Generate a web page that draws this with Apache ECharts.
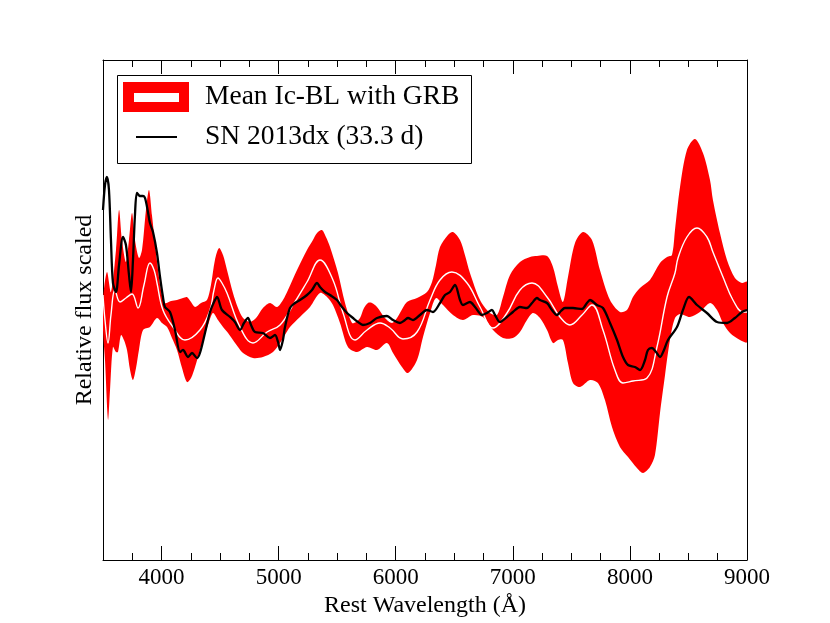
<!DOCTYPE html>
<html>
<head>
<meta charset="utf-8">
<script src="https://cdn.jsdelivr.net/npm/echarts@6/dist/echarts.min.js"></script>
<style>
  html, body { margin: 0; padding: 0; background: #fff; }
  #chart { width: 830px; height: 623px; }
</style>
</head>
<body>
<div id="chart"></div>
<script>
// red band: upper and lower envelope of the mean Ic-BL (GRB) spectrum
var upperBand = [
    [3500,2.60],[3534,2.88],[3568,2.68],[3611,3.10],[3637,3.50],[3662,3.20],[3696,2.98],[3722,3.20],
    [3748,3.47],[3773,3.20],[3807,3.02],[3833,3.10],[3867,3.50],[3893,3.70],[3918,3.45],[3944,3.17],
    [3970,2.90],[3995,2.70],[4029,2.57],[4081,2.59],[4132,2.60],[4183,2.62],[4217,2.63],[4252,2.58],
    [4286,2.53],[4337,2.57],[4388,2.60],[4422,2.75],[4456,3.00],[4491,3.12],[4525,3.05],[4559,2.90],
    [4610,2.67],[4653,2.52],[4696,2.42],[4755,2.38],[4807,2.42],[4866,2.52],[4926,2.57],[4986,2.53],
    [5037,2.60],[5080,2.70],[5157,2.90],[5242,3.10],[5293,3.20],[5328,3.27],[5370,3.30],[5404,3.23],
    [5439,3.13],[5507,2.87],[5567,2.57],[5627,2.37],[5661,2.38],[5695,2.42],[5729,2.52],[5763,2.57],
    [5797,2.57],[5840,2.53],[5908,2.42],[5968,2.37],[6011,2.42],[6036,2.47],[6096,2.58],[6182,2.62],
    [6267,2.68],[6310,2.78],[6344,2.95],[6378,3.13],[6446,3.25],[6489,3.28],[6549,3.20],[6591,3.05],
    [6634,2.87],[6720,2.60],[6805,2.47],[6865,2.45],[6916,2.63],[6976,2.85],[7061,2.98],[7147,3.03],
    [7206,3.04],[7292,3.04],[7343,2.93],[7386,2.73],[7428,2.58],[7471,2.83],[7531,3.17],[7599,3.28],
    [7676,3.20],[7744,2.90],[7830,2.60],[7915,2.48],[7975,2.50],[8026,2.63],[8086,2.72],[8171,2.80],
    [8257,2.97],[8317,3.03],[8359,3.05],[8385,3.30],[8428,3.73],[8487,4.10],[8556,4.21],[8624,4.07],
    [8684,3.80],[8709,3.60],[8769,3.27],[8829,3.00],[8897,2.82],[8957,2.77],[9000,2.78]
];
var lowerBand = [
    [3500,2.30],[3517,2.00],[3543,1.40],[3560,1.70],[3585,2.13],[3611,2.08],[3628,2.08],[3654,2.25],
    [3679,2.20],[3705,2.10],[3731,1.90],[3756,1.80],[3782,1.92],[3807,2.10],[3842,2.30],[3901,2.33],
    [3961,2.42],[4004,2.37],[4047,2.33],[4089,2.22],[4132,2.10],[4175,1.92],[4217,1.78],[4252,1.82],
    [4286,1.93],[4328,2.10],[4354,2.20],[4397,2.35],[4439,2.47],[4482,2.40],[4525,2.33],[4568,2.27],
    [4610,2.20],[4653,2.13],[4696,2.07],[4781,2.02],[4866,2.03],[4952,2.08],[5012,2.17],[5054,2.25],
    [5097,2.33],[5182,2.43],[5268,2.53],[5353,2.67],[5413,2.63],[5464,2.55],[5524,2.37],[5592,2.13],
    [5669,2.08],[5755,2.13],[5840,2.10],[5925,2.17],[5977,2.07],[6053,1.93],[6105,1.87],[6182,2.00],
    [6233,2.23],[6293,2.47],[6344,2.62],[6404,2.55],[6489,2.45],[6574,2.40],[6660,2.45],[6745,2.43],
    [6831,2.30],[6916,2.22],[7001,2.22],[7061,2.28],[7121,2.40],[7172,2.47],[7232,2.42],[7292,2.30],
    [7343,2.17],[7386,2.20],[7428,2.20],[7471,1.97],[7514,1.77],[7574,1.73],[7659,1.80],[7727,1.77],
    [7787,1.60],[7847,1.33],[7915,1.13],[7984,1.03],[8060,0.92],[8112,0.87],[8171,0.93],[8214,1.05],
    [8257,1.47],[8300,1.85],[8342,2.20],[8385,2.42],[8428,2.46],[8513,2.43],[8598,2.48],[8684,2.57],
    [8744,2.50],[8795,2.37],[8855,2.27],[8940,2.20],[9000,2.18]
];
// white line: the mean spectrum
var meanIcBL = [
    [3500,2.65],[3517,2.40],[3543,2.17],[3568,2.45],[3602,2.70],[3645,2.58],[3696,2.62],[3748,2.66],
    [3799,2.52],[3850,2.75],[3901,2.97],[3936,2.90],[3961,2.77],[4012,2.50],[4098,2.33],[4200,2.20],
    [4328,2.30],[4414,2.50],[4448,2.70],[4482,2.82],[4516,2.77],[4559,2.67],[4670,2.33],[4781,2.17],
    [4901,2.28],[5012,2.35],[5123,2.55],[5242,2.78],[5353,3.00],[5464,2.80],[5550,2.47],[5652,2.20],
    [5755,2.30],[5866,2.37],[5951,2.32],[6062,2.21],[6182,2.28],[6293,2.60],[6378,2.80],[6480,2.88],
    [6609,2.77],[6720,2.53],[6831,2.32],[6950,2.47],[7061,2.70],[7164,2.77],[7292,2.63],[7403,2.43],
    [7488,2.35],[7591,2.45],[7676,2.55],[7770,2.30],[7872,1.90],[7941,1.77],[8026,1.79],[8146,1.82],
    [8231,2.13],[8317,2.63],[8385,2.87],[8411,3.02],[8487,3.23],[8573,3.32],[8658,3.23],[8709,3.08],
    [8795,2.83],[8880,2.60],[8966,2.48],[9000,2.48]
];
// black line: SN 2013dx at 33.3 d
var sn2013dx = [
    [3500,3.50],[3517,3.75],[3534,3.83],[3551,3.70],[3568,3.20],[3585,2.77],[3611,2.68],[3637,2.95],
    [3671,3.23],[3696,3.15],[3722,2.85],[3739,2.68],[3756,3.00],[3773,3.45],[3790,3.67],[3816,3.64],
    [3842,3.64],[3859,3.62],[3884,3.48],[3901,3.37],[3927,3.28],[3961,3.07],[3987,2.83],[4012,2.63],
    [4029,2.53],[4072,2.48],[4115,2.30],[4158,2.08],[4183,2.10],[4226,2.03],[4260,2.07],[4303,2.02],
    [4328,2.07],[4371,2.27],[4414,2.48],[4448,2.58],[4474,2.63],[4516,2.50],[4585,2.43],[4627,2.38],
    [4670,2.30],[4704,2.37],[4738,2.42],[4764,2.35],[4798,2.28],[4866,2.27],[4926,2.22],[4969,2.25],
    [4995,2.18],[5012,2.10],[5037,2.20],[5054,2.33],[5097,2.52],[5140,2.57],[5182,2.60],[5242,2.65],
    [5285,2.70],[5328,2.77],[5353,2.73],[5396,2.68],[5439,2.65],[5498,2.60],[5541,2.53],[5584,2.47],
    [5635,2.42],[5678,2.38],[5720,2.35],[5780,2.37],[5840,2.42],[5925,2.44],[5977,2.40],[6036,2.37],
    [6079,2.40],[6105,2.42],[6147,2.40],[6207,2.45],[6267,2.50],[6318,2.48],[6378,2.57],[6421,2.65],
    [6463,2.68],[6506,2.75],[6549,2.60],[6574,2.55],[6634,2.58],[6677,2.53],[6737,2.45],[6779,2.47],
    [6822,2.50],[6848,2.45],[6890,2.38],[6950,2.43],[7001,2.48],[7061,2.53],[7121,2.52],[7164,2.57],
    [7206,2.62],[7232,2.60],[7292,2.57],[7334,2.50],[7377,2.45],[7411,2.49],[7445,2.52],[7514,2.52],
    [7591,2.51],[7633,2.57],[7659,2.60],[7719,2.55],[7770,2.52],[7830,2.37],[7890,2.20],[7941,2.03],
    [7984,1.95],[8043,1.93],[8086,1.90],[8129,2.00],[8154,2.10],[8188,2.12],[8223,2.08],[8257,2.03],
    [8291,2.10],[8325,2.20],[8402,2.33],[8453,2.50],[8505,2.63],[8573,2.55],[8658,2.47],[8744,2.38],
    [8829,2.37],[8897,2.42],[8957,2.48],[9000,2.50]
];
var majorTicks = [4000, 5000, 6000, 7000, 8000, 9000];
var minorTicks = [3750, 4250, 4500, 4750, 5250, 5500, 5750, 6250, 6500, 6750,
                  7250, 7500, 7750, 8250, 8500, 8750];

var serif = 'Liberation Serif';

var xAxisBase = function (position, ticks, len, withLabels, withLine) {
    return {
        type: 'value',
        position: position,
        min: 3500,
        max: 9000,
        splitLine: { show: false },
        axisLine: { show: withLine, onZero: false, lineStyle: { color: '#000', width: 1 } },
        axisTick: {
            show: true,
            inside: true,
            length: len,
            customValues: ticks,
            lineStyle: { color: '#000', width: 1 }
        },
        axisLabel: withLabels ? {
            show: true,
            customValues: ticks,
            formatter: function (v) { return String(v); },
            color: '#000',
            fontFamily: serif,
            fontSize: 23,
            margin: 6
        } : { show: false }
    };
};

var myChart = echarts.init(document.getElementById('chart'), null, { renderer: 'canvas' });

var bottomAxis = xAxisBase('bottom', majorTicks, 14, true, true);
bottomAxis.name = 'Rest Wavelength (\u00c5)';
bottomAxis.nameLocation = 'middle';
bottomAxis.nameGap = 34;
bottomAxis.nameTextStyle = { color: '#000', fontFamily: serif, fontSize: 24 };

var option = {
    animation: false,
    backgroundColor: '#fff',
    grid: { left: 103, right: 83, top: 60, bottom: 63, containLabel: false },
    xAxis: [
        bottomAxis,
        xAxisBase('bottom', minorTicks, 7, false, false),
        xAxisBase('top', majorTicks, 14, false, true),
        xAxisBase('top', minorTicks, 7, false, false)
    ],
    yAxis: [
        {
            type: 'value',
            position: 'left',
            min: 0,
            max: 5,
            name: 'Relative flux scaled',
            nameLocation: 'middle',
            nameGap: 6,
            nameTextStyle: { color: '#000', fontFamily: serif, fontSize: 24 },
            axisLine: { show: true, onZero: false, lineStyle: { color: '#000', width: 1 } },
            axisTick: { show: false },
            axisLabel: { show: false },
            splitLine: { show: false }
        },
        {
            type: 'value',
            position: 'right',
            min: 0,
            max: 5,
            axisLine: { show: true, onZero: false, lineStyle: { color: '#000', width: 1 } },
            axisTick: { show: false },
            axisLabel: { show: false },
            splitLine: { show: false }
        }
    ],
    series: [
        {
            name: 'Mean Ic-BL with GRB',
            type: 'custom',
            xAxisIndex: 0,
            yAxisIndex: 0,
            clip: true,
            z: 1,
            data: [[6000, 2.5]],
            renderItem: function (params, api) {
                var pts = upperBand.map(function (p) { return api.coord(p); });
                var low = lowerBand.slice().reverse().map(function (p) { return api.coord(p); });
                return {
                    type: 'polygon',
                    shape: { points: pts.concat(low), smooth: 0.3 },
                    style: { fill: '#ff0000', stroke: null }
                };
            }
        },
        {
            name: 'mean',
            type: 'line',
            xAxisIndex: 0,
            yAxisIndex: 0,
            data: meanIcBL,
            smooth: 0.4,
            symbol: 'none',
            z: 3,
            lineStyle: { color: '#ffffff', width: 1.4 }
        },
        {
            name: 'SN 2013dx (33.3 d)',
            type: 'line',
            xAxisIndex: 0,
            yAxisIndex: 0,
            data: sn2013dx,
            smooth: 0.3,
            symbol: 'none',
            z: 4,
            lineStyle: { color: '#000000', width: 2.3 }
        }
    ],
    graphic: [
        {
            type: 'group',
            z: 100,
            children: [
                { type: 'rect', shape: { x: 117.5, y: 75.5, width: 354, height: 88 },
                  style: { fill: '#fff', stroke: '#000', lineWidth: 1 } },
                { type: 'rect', shape: { x: 123, y: 82, width: 66, height: 30 },
                  style: { fill: '#ff0000' } },
                { type: 'rect', shape: { x: 134, y: 93, width: 45, height: 9 },
                  style: { fill: '#ffffff' } },
                { type: 'line', shape: { x1: 136, y1: 137, x2: 177, y2: 137 },
                  style: { stroke: '#000', lineWidth: 2 } },
                { type: 'text', x: 205, y: 97,
                  style: { text: 'Mean Ic-BL with GRB', fill: '#000', fontFamily: serif,
                           fontSize: 27.5, verticalAlign: 'middle', align: 'left' } },
                { type: 'text', x: 205, y: 137,
                  style: { text: 'SN 2013dx (33.3 d)', fill: '#000', fontFamily: serif,
                           fontSize: 27.5, verticalAlign: 'middle', align: 'left' } }
            ]
        }
    ]
};

myChart.setOption(option);
window.onresize = myChart.resize;
</script>
</body>
</html>
